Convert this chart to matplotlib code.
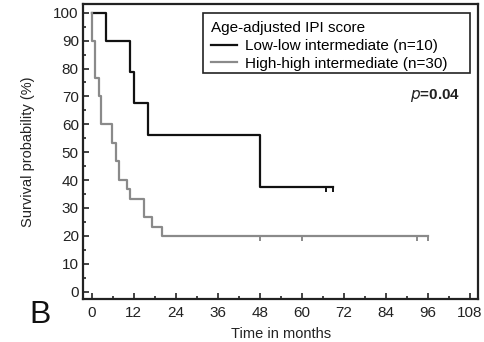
import numpy as np
import matplotlib.pyplot as plt
from matplotlib.patches import Rectangle
from matplotlib.ticker import MultipleLocator

plt.rcParams['font.family'] = ['Liberation Sans', 'DejaVu Sans']

# Kaplan-Meier steps
low_t = [0, 4, 11, 12, 16, 48, 69]
low_s = [100, 90, 78.75, 67.5, 56.25, 37.5, 37.5]
low_cens_t = [67, 69]
low_cens_s = [37.5, 37.5]

high_t = [0, 0.1, 0.85, 2, 2.7, 5.9, 6.9, 7.9, 10.1, 10.9, 15, 17.1, 20.2, 96]
high_s = [100, 90, 76.7, 70, 60, 53.3, 46.7, 40, 36.7, 33.3, 26.7, 23.3, 20, 20]
high_cens_t = [48, 60, 93, 96]
high_cens_s = [20, 20, 20, 20]

x_ticks = np.arange(0, 109, 12)
y_ticks = np.arange(0, 101, 10)

fig = plt.figure(figsize=(4.85, 3.42), dpi=100)
ax = fig.add_axes([0.171, 0.126, 0.815, 0.862])

grey = '#8a8a8a'
black = '#111111'
cens = [(0, 0), (0, -1)]

ax.plot(low_t, low_s, drawstyle='steps-post', color=black, lw=1.6,
        label='Low-low intermediate (n=10)')
ax.plot(high_t, high_s, drawstyle='steps-post', color=grey, lw=1.6,
        label='High-high intermediate (n=30)')
ax.plot(low_cens_t, low_cens_s, ls='none', marker=cens, ms=7, mew=1.4, color=black)
ax.plot(high_cens_t, high_cens_s, ls='none', marker=cens, ms=7, mew=1.4, color=grey)

ax.set_xlim(-2.5, 110.4)
ax.set_ylim(-2.6, 103.1)
ax.set_xticks(x_ticks)
ax.set_yticks(y_ticks)
ax.xaxis.set_minor_locator(MultipleLocator(6))
ax.yaxis.set_minor_locator(MultipleLocator(5))
ax.tick_params(which='both', direction='in', width=1.2, color='#222222',
               labelsize=11, labelcolor='#222222')
ax.tick_params(which='major', length=4.5)
ax.tick_params(which='minor', length=2.2)
ax.tick_params(axis='x', pad=5)
ax.tick_params(axis='y', pad=3)
for s in ax.spines.values():
    s.set_linewidth(1.6)
    s.set_color('#222222')

ax.set_xlabel('Time in months', fontsize=10.5, color='#222222', labelpad=5)
ax.set_ylabel('Survival probability (%)', fontsize=10.5, color='#222222', labelpad=13)

# legend without its own frame, box drawn separately (wider on the right like the original)
leg = ax.legend(loc='upper left', bbox_to_anchor=(0.324, 0.942), title='Age-adjusted IPI score',
                fontsize=11, title_fontsize=11, frameon=False, borderpad=0,
                handlelength=1.68, handletextpad=0.54, labelspacing=0.25, borderaxespad=0)
leg._legend_box.align = 'left'
ax.add_patch(Rectangle((0.3046, 0.765), 0.98 - 0.3046, 0.9705 - 0.765, transform=ax.transAxes,
                       fill=False, edgecolor='#222222', lw=1.2, zorder=5))

ax.text(0.954, 0.69, r'$\bf{\it{p}}$' + '=0.04', transform=ax.transAxes, ha='right', va='center',
        fontsize=11, fontweight='bold', color='#222222')

fig.text(0.06, 0.078, 'B', fontsize=23, color='#111111', ha='left', va='center')

fig.savefig('out.png', dpi=100)
